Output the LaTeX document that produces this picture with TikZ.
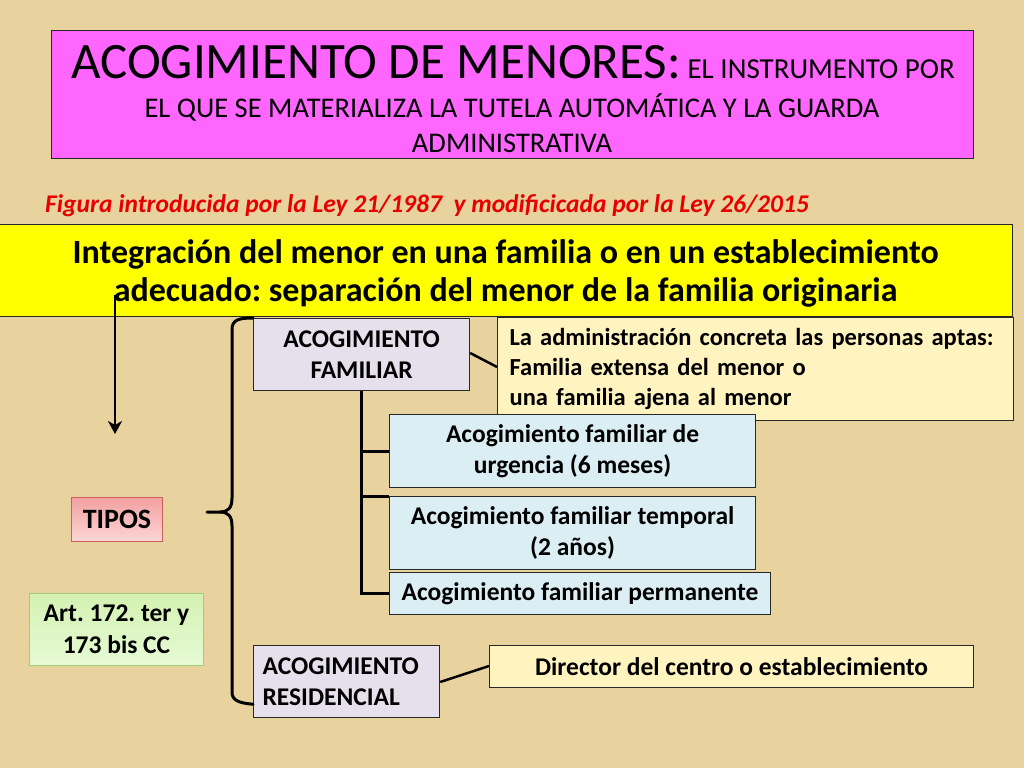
\documentclass[tikz,border=0pt]{standalone}
\usepackage{fontspec}
\setmainfont{Carlito}
\usetikzlibrary{arrows.meta,calc}
\definecolor{bg}{RGB}{232,211,158}
\definecolor{mag}{RGB}{255,102,255}
\definecolor{ylw}{RGB}{255,255,0}
\definecolor{lav}{RGB}{229,224,236}
\definecolor{pale}{RGB}{255,244,192}
\definecolor{lblue}{RGB}{219,238,244}
\definecolor{redtxt}{RGB}{230,0,0}
\definecolor{edge}{RGB}{40,40,40}
\tikzset{
  box/.style={draw=edge, line width=1.2pt, inner sep=0pt, anchor=north west,
    font=\bfseries\fontsize{25.5}{31}\selectfont},
  conn/.style={line width=3pt, black},
  thin conn/.style={line width=2.5pt, black},
}
\frenchspacing
\begin{document}
\begin{tikzpicture}[x=1pt,y=-1pt]
\useasboundingbox (0,0) rectangle (1024,768);
\fill[bg] (0,0) rectangle (1024,768);
% title
\node[draw=edge, line width=1.2pt, fill=mag, anchor=north west, minimum width=922pt, minimum height=128pt, inner sep=0pt] (title) at (51,30) {};
\node[anchor=base, inner sep=0pt] (t1) at (513,78) {\fontsize{51}{60}\selectfont ACOGIMIENTO DE MENORES:\fontsize{29}{35}\selectfont\ EL INSTRUMENTO POR};
\node[anchor=base, inner sep=0pt, font=\fontsize{28.5}{35}\selectfont] (t2) at (512,117) {EL QUE SE MATERIALIZA LA TUTELA AUTOMÁTICA Y LA GUARDA};
\node[anchor=base, inner sep=0pt, font=\fontsize{28.5}{35}\selectfont] (t3) at (512,152) {ADMINISTRATIVA};
% red subtitle
\node[anchor=base west, inner sep=0pt, text=redtxt, font=\bfseries\itshape\fontsize{25.5}{30}\selectfont] (sub) at (45,212) {Figura introducida por la Ley 21/1987\ \ y modificicada por la Ley 26/2015};
% yellow band
\node[box, fill=ylw, minimum width=1014pt, minimum height=92pt, align=center, font=\bfseries\fontsize{34}{38}\selectfont] (band) at (-2,224) {\rule{0pt}{30pt}Integración del menor en una familia o en un establecimiento\\adecuado: separación del menor de la familia originaria};
% arrow
\coordinate (a1) at (115,295);
\coordinate (a2) at (115,434);
\draw[line width=2.5pt, -{Stealth[length=13pt,width=14pt,inset=4pt]}] (a1) -- (a2);
% TIPOS and Art
\node[box, draw={rgb,255:red,205;green,95;blue,95}, line width=1pt, top color={rgb,255:red,242;green,160;blue,160}, bottom color={rgb,255:red,252;green,214;blue,214}, minimum width=91pt, minimum height=44pt, font=\bfseries\fontsize{28}{32}\selectfont] (tipos) at (71,497) {TIPOS};
\node[box, draw={rgb,255:red,160;green,205;blue,120}, line width=1pt, top color={rgb,255:red,212;green,242;blue,178}, bottom color={rgb,255:red,230;green,250;blue,212}, minimum width=174pt, minimum height=72pt, align=center, font=\bfseries\fontsize{25.5}{32}\selectfont] (art) at (29,593) {Art. 172. ter y\\173 bis CC};
% boxes
\node[box, fill=lav, minimum width=216pt, minimum height=72pt, align=center] (fam) at (253,318) {ACOGIMIENTO\\FAMILIAR};
\node[box, fill=pale, minimum width=516pt, minimum height=103pt, text width=492pt, align=left, inner xsep=12pt, font=\bfseries\fontsize{24.5}{30}\selectfont] (adm) at (497,317) {\hyphenpenalty=10000 La administración concreta las personas aptas:\\Familia extensa del menor o\\una familia ajena al menor};
\node[box, fill=lblue, minimum width=366pt, minimum height=73pt, align=center] (urg) at (389,414) {Acogimiento familiar de\\urgencia (6 meses)};
\node[box, fill=lblue, minimum width=366pt, minimum height=73pt, align=center] (temp) at (389,496) {Acogimiento familiar temporal\\(2 años)};
\node[box, fill=lblue, minimum width=381pt, minimum height=42pt] (perm) at (389,572) {Acogimiento familiar permanente};
\node[box, fill=lav, minimum width=186pt, minimum height=72pt, text width=168pt, align=left, inner xsep=9pt] (res) at (253,645) {ACOGIMIENTO\\RESIDENCIAL};
\node[box, fill=pale, minimum width=484pt, minimum height=42pt] (dir) at (489,645) {Director del centro o establecimiento};
% connectors
\draw[conn] (fam.south) |- (perm.west);
\draw[conn] (fam.south |- urg.west) -- (urg.west);
\draw[conn] (fam.south |- temp.north west) -- (temp.north west);
\draw[thin conn] ($(fam.north east)+(0,35)$) -- ($(adm.north west)+(0,50)$);
\draw[thin conn] ($(res.north east)+(0,37)$) -- ($(dir.north west)+(0,21)$);
% brace
\coordinate (brtip) at (207,512);
\draw[conn, line cap=round] (fam.north west) .. controls (238,318) and (232,320) .. (232,330) -- (232,498)
  .. controls (232,508) and (228,512) .. (220,512) -- (brtip);
\draw[conn, line cap=round] (220,512) .. controls (228,512) and (232,516) .. (232,526) -- (232,692)
  .. controls (232,700) and (238,703) .. ($(res.south west)+(0,-14)$);
\end{tikzpicture}
\end{document}
